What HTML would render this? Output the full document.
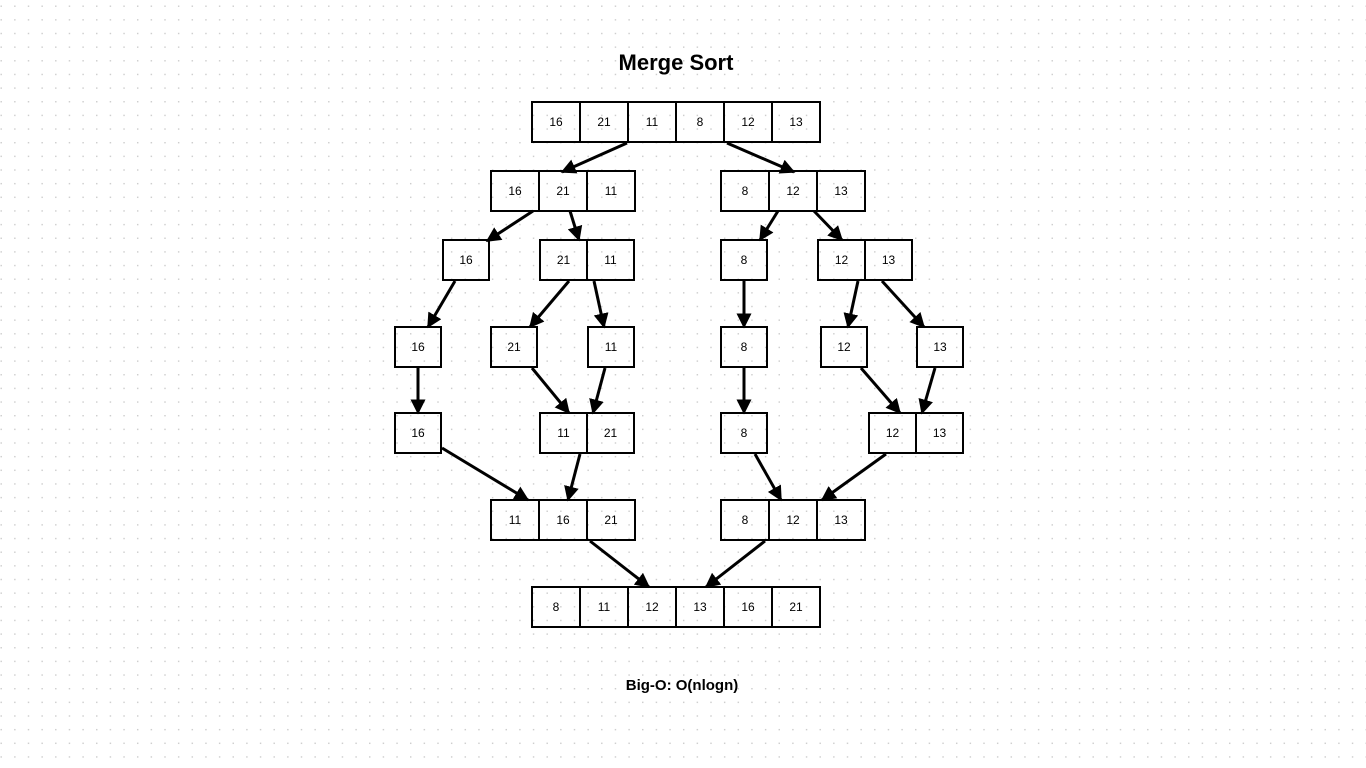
<!DOCTYPE html>
<html><head><meta charset="utf-8"><style>
html,body{margin:0;padding:0;background:#fff;}
svg{display:block;}
text{font-family:"Liberation Sans",sans-serif;}
</style></head><body>
<svg width="1366" height="768" viewBox="0 0 1366 768" xmlns="http://www.w3.org/2000/svg">
<defs>
<pattern id="dots" x="0" y="5" width="13.65" height="13.65" patternUnits="userSpaceOnUse">
<rect x="0.5" y="0.5" width="1.4" height="1.4" fill="#cbcbcb"/>
</pattern>
<marker id="ah" viewBox="0 0 10 10" refX="9" refY="5" markerWidth="5" markerHeight="5" orient="auto" markerUnits="strokeWidth">
<path d="M0,0 L10,5 L0,10 z" fill="#000"/>
</marker>
</defs>
<rect width="1366" height="768" fill="url(#dots)"/>
<text x="676" y="70" font-size="22" font-weight="bold" text-anchor="middle">Merge Sort</text>
<text x="682" y="690" font-size="15" font-weight="bold" text-anchor="middle">Big-O: O(nlogn)</text>
<g stroke="#000" stroke-width="2" fill="none" id="boxes"></g>
<g font-size="12" text-anchor="middle" id="labels"></g>
<g stroke="#000" stroke-width="3" id="arrows"></g>
</svg>
<script>
var ns="http://www.w3.org/2000/svg";
function arr(x,y,vals,w){w=w||48;var b=document.getElementById('boxes'),l=document.getElementById('labels');
vals.forEach(function(v,i){var r=document.createElementNS(ns,'rect');r.setAttribute('x',x+i*w);r.setAttribute('y',y);r.setAttribute('width',w);r.setAttribute('height',40);b.appendChild(r);
var t=document.createElementNS(ns,'text');t.setAttribute('x',x+i*w+w/2);t.setAttribute('y',y+24);t.textContent=v;l.appendChild(t);});}
arr(532,102,[16,21,11,8,12,13]);
arr(491,171,[16,21,11]);arr(721,171,[8,12,13]);
arr(443,240,[16],46);arr(540,240,[21,11],47);arr(721,240,[8],46);arr(818,240,[12,13],47);
arr(395,327,[16],46);arr(491,327,[21],46);arr(588,327,[11],46);arr(721,327,[8],46);arr(821,327,[12],46);arr(917,327,[13],46);
arr(395,413,[16],46);arr(540,413,[11,21],47);arr(721,413,[8],46);arr(869,413,[12,13],47);
arr(491,500,[11,16,21]);arr(721,500,[8,12,13]);
arr(532,587,[8,11,12,13,16,21]);
var A=[[627,143,562,172],[727,143,794,172],[533,211,487,241],[570,211,579,240],[778,211,760,240],[814,211,842,240],
[455,281,428,327],[569,281,530,327],[594,281,604,327],[744,281,744,327],[858,281,848,327],[882,281,924,327],
[418,368,418,413],[532,368,569,413],[605,368,593,413],[744,368,744,413],[861,368,900,413],[935,368,922,413],
[442,448,528,500],[580,454,568,500],[755,454,781,500],[886,454,822,500],[590,541,649,587],[765,541,706,587]];
var g=document.getElementById('arrows');
A.forEach(function(a){var ln=document.createElementNS(ns,'line');ln.setAttribute('x1',a[0]);ln.setAttribute('y1',a[1]);ln.setAttribute('x2',a[2]);ln.setAttribute('y2',a[3]);ln.setAttribute('marker-end','url(#ah)');g.appendChild(ln);});
</script>
</body></html>
